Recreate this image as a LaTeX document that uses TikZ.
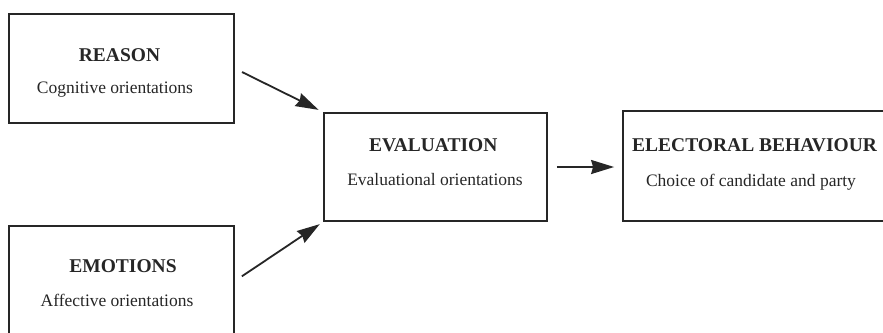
\documentclass[tikz,border=0pt]{standalone}
\usepackage{fontspec}
\setmainfont{Liberation Serif}
\usetikzlibrary{arrows.meta}
\definecolor{ink}{HTML}{262626}
\begin{document}
\begin{tikzpicture}[x=1pt,y=-1pt,
  box/.style={draw=ink, line width=1.8pt, inner sep=0pt, rectangle},
  ttl/.style={anchor=base, inner sep=0pt, text=ink, font=\fontsize{19.5}{22}\selectfont\bfseries},
  sub/.style={anchor=base, inner sep=0pt, text=ink, font=\fontsize{17.5}{20}\selectfont},
  arr/.style={draw=ink, line width=1.8pt, -{Stealth[length=23pt,width=14pt,inset=2pt]}}]
\clip (0,0) rectangle (883,332);
\fill[white] (0,0) rectangle (883,332);
% boxes
\node[box, minimum width=225pt, minimum height=109pt] (reason) at (121.5,68.5) {};
\node[box, minimum width=225pt, minimum height=110pt] (emotions) at (121.5,281) {};
\node[box, minimum width=223pt, minimum height=108pt] (eval) at (435.5,167) {};
\node[box, minimum width=267pt, minimum height=110pt] (elect) at (756.5,166) {};
% texts
\node[ttl] (t1) at (119.5,61) {REASON};
\node[sub] (s1) at (115,93.3) {Cognitive orientations};
\node[ttl] (t2) at (123,272.7) {EMOTIONS};
\node[sub] (s2) at (117,306.7) {Affective orientations};
\node[ttl] (t3) at (433.3,151) {EVALUATION};
\node[sub] (s3) at (435,185) {Evaluational orientations};
\node[ttl, anchor=base west] (t4) at (632,151) {ELECTORAL BEHAVIOUR};
\node[sub] (s4) at (751,186) {Choice of candidate and party};
% arrows
\draw[arr, shorten <=8pt, shorten >=5pt] (reason.east) -- (eval.north west);
\draw[arr, shorten <=8.4pt, shorten >=4pt] (emotions.east) -- (eval.south west);
\draw[arr, shorten <=9pt, shorten >=8pt] (eval.east) -- (eval.east -| elect.west);
\end{tikzpicture}
\end{document}
